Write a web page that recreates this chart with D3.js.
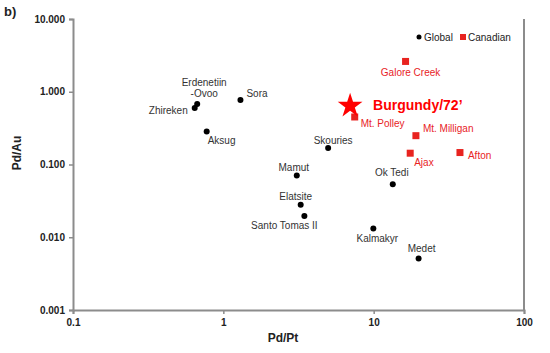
<!DOCTYPE html>
<html>
<head>
<meta charset="utf-8">
<script src="https://cdn.jsdelivr.net/npm/d3@7"></script>
<style>
  body { margin: 0; background: #fff; }
  text { font-family: "Liberation Sans", Arial, sans-serif; }
</style>
</head>
<body>
<div id="chart"></div>
<script>
// Global deposits
var globalNames = ["Erdenetiin-Ovoo", "Zhireken", "Sora", "Aksug", "Skouries", "Mamut", "Elatsite", "Santo Tomas II", "Ok Tedi", "Kalmakyr", "Medet"];
var globalPdPt = [0.67, 0.645, 1.30, 0.775, 4.98, 3.08, 3.27, 3.46, 13.4, 9.95, 19.9];
var globalPdAu = [0.68, 0.60, 0.77, 0.285, 0.168, 0.0705, 0.028, 0.0196, 0.0535, 0.0132, 0.0051];

// Canadian deposits
var canadianNames = ["Galore Creek", "Mt. Polley", "Mt. Milligan", "Ajax", "Afton"];
var canadianPdPt = [16.3, 7.48, 19.1, 17.5, 37.5];
var canadianPdAu = [2.61, 0.45, 0.249, 0.143, 0.146];

// Burgundy/72'
var burgundyPdPt = 6.97;
var burgundyPdAu = 0.66;

var xTicks = [0.1, 1, 10, 100];
var yTicks = [0.001, 0.01, 0.1, 1, 10];

var svgWidth = 550;
var svgHeight = 353;
var margin = { top: 19, right: 26, bottom: 43, left: 73 };
var width = svgWidth - margin.left - margin.right;
var height = svgHeight - margin.top - margin.bottom;

var svg = d3.select("#chart")
    .append("svg")
    .attr("width", svgWidth)
    .attr("height", svgHeight);

var chartGroup = svg.append("g")
    .attr("transform", `translate(${margin.left}, ${margin.top})`);

var xScale = d3.scaleLog().domain([0.1, 100]).range([0, width]);
var yScale = d3.scaleLog().domain([0.001, 10]).range([height, 0]);

var axisColor = "#8c8c8c";

// axes
var xAxis = chartGroup.append("g")
    .attr("transform", `translate(0, ${height})`)
    .call(d3.axisBottom(xScale).tickValues(xTicks).tickSize(4).tickFormat(d => d3.format("")(d)));
var yAxis = chartGroup.append("g")
    .call(d3.axisLeft(yScale).tickValues(yTicks).tickSize(4).tickFormat(d3.format(".3f")));

[xAxis, yAxis].forEach(function (ax) {
    ax.select(".domain").attr("stroke", axisColor).attr("stroke-width", 2);
    ax.selectAll(".tick line").attr("stroke", axisColor).attr("stroke-width", 1.5);
    ax.selectAll(".tick text")
        .attr("fill", "#222")
        .style("font-size", "10px")
        .style("font-weight", "bold")
        .style("font-family", "'Liberation Sans', Arial, sans-serif");
});
xAxis.selectAll(".tick text").attr("dy", "0.95em").attr("y", 6);
yAxis.selectAll(".tick text").attr("x", -8);

// right border
chartGroup.append("line")
    .attr("x1", width).attr("x2", width)
    .attr("y1", 0).attr("y2", height)
    .attr("stroke", axisColor)
    .attr("stroke-width", 2);

// axis titles
svg.append("text")
    .attr("x", 283)
    .attr("y", 342)
    .attr("text-anchor", "middle")
    .style("font-size", "12px")
    .style("font-weight", "bold")
    .attr("fill", "#222")
    .text("Pd/Pt");

svg.append("text")
    .attr("transform", "translate(21, 153) rotate(-90)")
    .attr("text-anchor", "middle")
    .style("font-size", "12px")
    .style("font-weight", "bold")
    .attr("fill", "#222")
    .text("Pd/Au");

svg.append("text")
    .attr("x", 4)
    .attr("y", 16)
    .style("font-size", "13px")
    .style("font-weight", "bold")
    .attr("fill", "#222")
    .text("b)");

// label offsets from each point: [dx, dy, anchor]
var globalLabelPos = [
    [7, -18, "middle"], [-7, 6, "end"], [6, -3, "start"], [1, 13, "start"], [5, -4, "middle"],
    [-3, -5, "middle"], [-5, -5, "middle"], [-20, 13, "middle"], [-1, -8, "middle"], [4, 14, "middle"], [3, -7, "middle"]
];
var canadianLabelPos = [
    [5, 15, "middle"], [6, 10, "start"], [7, -4, "start"], [4, 13, "start"], [8, 6, "start"]
];

var gData = globalNames.map((n, i) => ({ name: n, x: globalPdPt[i], y: globalPdAu[i], pos: globalLabelPos[i] }));
var cData = canadianNames.map((n, i) => ({ name: n, x: canadianPdPt[i], y: canadianPdAu[i], pos: canadianLabelPos[i] }));

chartGroup.append("g")
    .selectAll("circle")
    .data(gData)
    .enter()
    .append("circle")
    .attr("cx", d => xScale(d.x))
    .attr("cy", d => yScale(d.y))
    .attr("r", 3)
    .attr("fill", "#000");

var gLabels = chartGroup.append("g")
    .selectAll("text")
    .data(gData)
    .enter()
    .append("text")
    .attr("x", d => xScale(d.x) + d.pos[0])
    .attr("y", d => yScale(d.y) + d.pos[1])
    .attr("text-anchor", d => d.pos[2])
    .style("font-size", "10px")
    .attr("fill", "#333");

gLabels.each(function (d) {
    var t = d3.select(this);
    if (d.name === "Erdenetiin-Ovoo") {
        t.append("tspan").attr("x", xScale(d.x) + d.pos[0]).text("Erdenetiin");
        t.append("tspan").attr("x", xScale(d.x) + d.pos[0]).attr("dy", 11).text("-Ovoo");
    } else {
        t.text(d.name);
    }
});

chartGroup.append("g")
    .selectAll("rect")
    .data(cData)
    .enter()
    .append("rect")
    .attr("x", d => xScale(d.x) - 3.5)
    .attr("y", d => yScale(d.y) - 3.5)
    .attr("width", 7)
    .attr("height", 7)
    .attr("fill", "#e8231f");

chartGroup.append("g")
    .selectAll("text")
    .data(cData)
    .enter()
    .append("text")
    .attr("x", d => xScale(d.x) + d.pos[0])
    .attr("y", d => yScale(d.y) + d.pos[1])
    .attr("text-anchor", d => d.pos[2])
    .style("font-size", "10px")
    .attr("fill", "#e8231f")
    .text(d => d.name);

// Burgundy star
var bx = xScale(burgundyPdPt);
var by = yScale(burgundyPdAu);
chartGroup.append("path")
    .attr("d", d3.symbol().type(d3.symbolStar).size(190)())
    .attr("transform", `translate(${bx}, ${by + 1})`)
    .attr("fill", "#ff0000");

chartGroup.append("text")
    .attr("x", bx + 23)
    .attr("y", by + 5)
    .style("font-size", "14px")
    .style("font-weight", "bold")
    .attr("fill", "#ff0000")
    .text("Burgundy/72\u2019");

// legend
var legend = svg.append("g").attr("transform", "translate(419, 37)");
legend.append("circle").attr("cx", 0).attr("cy", 0).attr("r", 2.5).attr("fill", "#000");
legend.append("text").attr("x", 5).attr("y", 4).style("font-size", "10px").attr("fill", "#222").text("Global");
legend.append("rect").attr("x", 41).attr("y", -3).attr("width", 6).attr("height", 6).attr("fill", "#e8231f");
legend.append("text").attr("x", 49).attr("y", 4).style("font-size", "10px").attr("fill", "#222").text("Canadian");
</script>
</body>
</html>
